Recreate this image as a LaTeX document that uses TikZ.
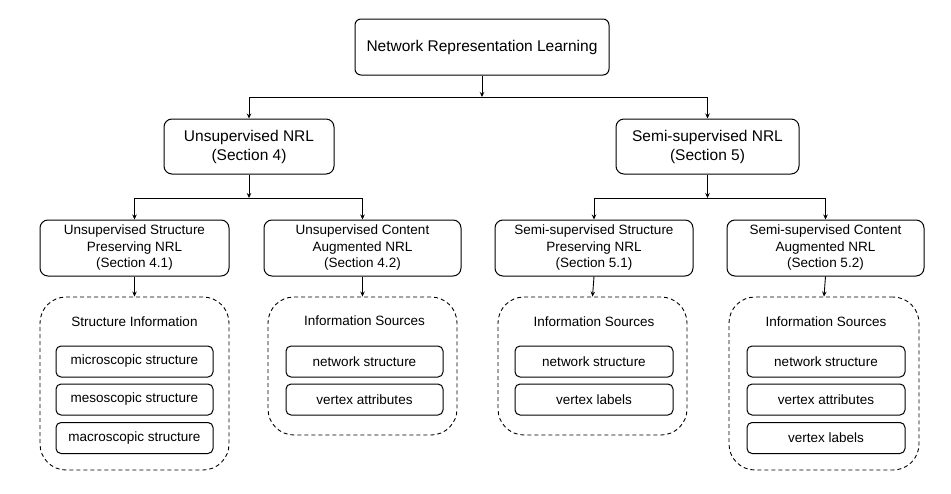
\documentclass[tikz,border=0pt]{standalone}
\usepackage{fontspec}
\setmainfont{Liberation Sans}
\usetikzlibrary{arrows.meta}
\begin{document}
\begin{tikzpicture}[x=1pt,y=-1pt,
  box/.style={draw,line width=1pt,rounded corners=6pt,inner sep=0pt,align=center,anchor=center},
  topbox/.style={box,font=\fontsize{15.5}{19}\selectfont},
  midbox/.style={box,rounded corners=8pt,font=\fontsize{15.5}{19}\selectfont,minimum height=55pt},
  subbox/.style={box,rounded corners=8pt,font=\fontsize{13.5}{16.5}\selectfont,minimum height=56pt},
  group/.style={draw,dash pattern=on 4pt off 3pt,line width=0.9pt,rounded corners=26pt,inner sep=0pt,anchor=center},
  gtitle/.style={font=\fontsize{13.5}{16}\selectfont,anchor=center,inner sep=0pt},
  item/.style={box,rounded corners=5pt,font=\fontsize{13.5}{16}\selectfont,minimum height=31pt},
  arr/.style={line width=0.9pt,-{Stealth[length=5pt,width=4.5pt]}},
  ln/.style={line width=0.9pt}
]
\useasboundingbox (0,0) rectangle (951,493);

\node[topbox,minimum width=254pt,minimum height=56pt] (top) at (482,47) {Network Representation Learning};

\node[midbox,minimum width=170pt] (uns) at (249,146.5) {Unsupervised NRL\\(Section 4)};
\node[midbox,minimum width=183pt] (semi) at (707.5,146.5) {Semi-supervised NRL\\(Section 5)};

\node[subbox,minimum width=189pt] (usp) at (134.5,248) {Unsupervised Structure\\Preserving NRL\\(Section 4.1)};
\node[subbox,minimum width=197pt] (uca) at (362.5,248) {Unsupervised Content\\Augmented NRL\\(Section 4.2)};
\node[subbox,minimum width=198pt] (ssp) at (594,248) {Semi-supervised Structure\\Preserving NRL\\(Section 5.1)};
\node[subbox,minimum width=197pt] (sca) at (825.5,248) {Semi-supervised Content\\Augmented NRL\\(Section 5.2)};

% junctions
\coordinate (j0) at (482,97);
\coordinate (j1) at (249,198);
\coordinate (j2) at (707.5,198);

\draw[arr] (top.south) -- (j0);
\draw[arr] (j0) -| (uns.north);
\draw[arr] (j0) -| (semi.north);
\draw[arr] (uns.south) -- (j1);
\draw[arr] (j1) -| (usp.north);
\draw[arr] (j1) -| (uca.north);
\draw[arr] (semi.south) -- (j2);
\draw[arr] (j2) -| (ssp.north);
\draw[arr] (j2) -| (sca.north);

% groups
\node[group,minimum width=189pt,minimum height=173pt] (g1) at (134.5,383.5) {};
\node[group,minimum width=189pt,minimum height=138pt] (g2) at (362.5,366) {};
\node[group,minimum width=189pt,minimum height=138pt] (g3) at (592.5,366) {};
\node[group,minimum width=190pt,minimum height=173pt] (g4) at (824,383.5) {};

\draw[arr] (usp.south) -- (g1.north);
\draw[arr] (uca.south) -- (g2.north);
\draw[arr] (ssp.south) -- (g3.north);
\draw[arr] (sca.south) -- (g4.north);

\node[gtitle] (t1) at (134.5,322) {Structure Information};
\node[gtitle] (t2) at (364.5,321) {Information Sources};
\node[gtitle] (t3) at (594,322) {Information Sources};
\node[gtitle] (t4) at (826,322) {Information Sources};

\node[item,minimum width=157pt] (a1) at (134.5,361.5) {microscopic structure};
\node[item,minimum width=157pt] (a2) at (134.5,399.5) {mesoscopic structure};
\node[item,minimum width=157pt] (a3) at (134.5,438) {macroscopic structure};

\node[item,minimum width=157pt] (b1) at (364.5,361.5) {network structure};
\node[item,minimum width=157pt] (b2) at (364.5,399.5) {vertex attributes};

\node[item,minimum width=158pt] (c1) at (594,361.5) {network structure};
\node[item,minimum width=158pt] (c2) at (594,399.5) {vertex labels};

\node[item,minimum width=158pt] (d1) at (826,361.5) {network structure};
\node[item,minimum width=158pt] (d2) at (826,399.5) {vertex attributes};
\node[item,minimum width=158pt] (d3) at (826,438) {vertex labels};
\end{tikzpicture}
\end{document}
